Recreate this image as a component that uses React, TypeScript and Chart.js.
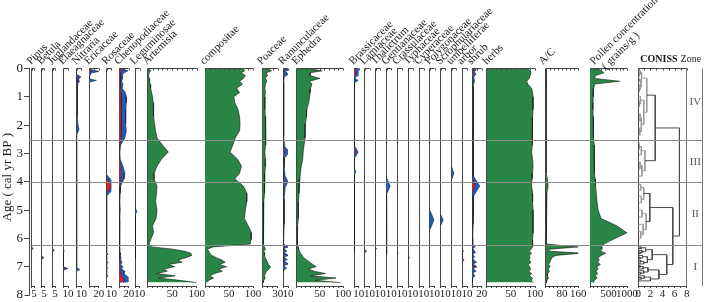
import React, { useEffect, useRef } from 'react';
import { Chart, registerables } from 'chart.js';
Chart.register(...registerables);

type Pt = [number, number];

// ---------- DATA ----------
const AGES = [0.02,0.08,0.15,0.25,0.35,0.45,0.55,0.7,0.85,1.0,1.2,1.45,1.7,1.95,2.2,2.45,2.7,2.95,3.2,3.45,3.7,3.9,4.15,4.4,4.7,5.0,5.3,5.55,5.8,6.05,6.2,6.3,6.38,6.45,6.52,6.6,6.68,6.76,6.84,6.92,7.0,7.08,7.16,7.24,7.32,7.4,7.48,7.56];

const artemisia = [3,6,3,2,3,4,5,6,8,10,11,12,12,14,16,19,30,42,28,19,13,13,19,18,16,19,17,10,12,6,3,8,52,75,88,90,78,62,70,42,55,33,40,18,56,22,65,100];
const compositae = [79,83,75,84,80,72,78,66,72,60,62,69,72,73,72,63,58,52,68,76,72,62,80,87,87,84,82,90,97,96,94,17,5,8,10,14,24,35,42,30,45,28,36,20,10,18,8,4];
const poaceae = [12,18,8,10,6,9,6,5,6,5,5,5,6,6,7,7,6,5,6,6,5,5,4,4,3,3,3,2,2,2,2,4,6,3,5,4,6,8,10,12,16,13,8,6,4,6,3,2];
const ephedra = [32,55,30,29,50,28,33,30,29,28,26,22,21,19,18,18,16,14,13,10,8,7,5,5,4,4,3,2,2,1,1,3,4,6,8,12,15,22,28,35,42,25,38,62,30,85,40,95];
const herbs = [86,90,92,90,88,83,85,93,95,96,96,96,95,95,95,94,94,93,95,96,95,94,93,95,95,96,96,96,96,95,95,95,92,88,93,88,90,87,92,86,89,91,87,93,88,95,92,97];
const acRatio = [3,2,2,3,2,2,2,2,2,3,2,2,3,3,4,3,2,2,3,3,4,8,12,6,4,3,3,2,2,2,5,160,20,15,180,50,30,25,20,15,22,12,18,10,8,14,6,4];
const concentration = [250,300,380,150,120,800,130,100,90,85,80,80,85,90,95,100,110,110,120,120,130,140,150,170,190,220,300,720,1000,600,380,300,320,280,420,300,220,250,200,280,180,220,160,210,150,190,120,100];
const chenoExag = [6,19,10,6,7,5,8,6,13,15,15,14,13,14,15,12,3,1,2,8,12,10,3,2,1,2,1,1,1,1,0,1,2,1,3,2,4,3,6,3,8,5,12,10,15,22,33,8];
const chenoPct = [2,5,3,2,2,2,3,2,4,5,5,4,4,4,5,4,1,0,1,3,4,3,1,1,0,1,0,0,0,0,0,0,1,0,1,1,1,1,2,1,2,1,4,3,5,8,11,2];

// sparse taxa: [age, value]
const pinusExag: Pt[] = [[6.3,0],[6.36,3],[6.42,0]];
const betulaExag: Pt[] = [[6.62,0],[6.68,5],[6.74,0]];
const juglandExag: Pt[] = [[6.36,0],[6.42,3],[6.48,0]];
const elaeagExag: Pt[] = [[6.4,0],[6.45,2],[6.5,0],[7.0,0],[7.06,10],[7.12,0]];
const elaeagPct: Pt[] = [[7.02,0],[7.06,5],[7.1,0]];
const nitrariaExag: Pt[] = [[0.2,0],[0.3,9],[0.38,4],[0.46,6],[0.55,2],[0.8,1],[1.2,1],[1.7,2],[2.0,3],[2.15,5],[2.3,1],[2.5,0],[7.04,0],[7.1,7],[7.16,0]];
const nitrariaPct: Pt[] = [[0.24,0],[0.3,3],[0.38,1],[0.46,2],[0.55,0]];
const ericExag: Pt[] = [[0.0,0],[0.05,6],[0.1,22],[0.16,4],[0.3,0],[0.36,0],[0.42,15],[0.48,0]];
const ericPct: Pt[] = [[0.02,0],[0.06,5],[0.1,4],[0.14,0]];
const rosaExag: Pt[] = [[3.75,0],[4.15,21],[4.5,0],[6.5,0],[6.55,3],[6.6,0],[6.8,0],[6.85,3],[6.9,0],[7.0,0],[7.05,2],[7.1,0],[7.27,0],[7.32,3],[7.37,0]];
const rosaPct: Pt[] = [[3.85,0],[4.15,10],[4.4,0]];
const leguExag: Pt[] = [[4.9,0],[5.05,4],[5.2,0],[6.64,0],[6.68,2],[6.72,0]];
const ranuExag: Pt[] = [[0.0,3],[0.05,13],[0.1,4],[0.2,11],[0.3,2],[0.5,1],[0.8,1],[1.5,1],[2.4,1],[2.75,3],[2.95,13],[3.15,3],[3.5,2],[3.8,4],[4.0,10],[4.2,4],[4.6,2],[5.0,2],[5.5,2],[6.0,1],[6.2,0],[6.3,12],[6.36,1],[6.45,8],[6.5,1],[6.6,12],[6.66,1],[6.75,9],[6.8,1],[6.9,12],[6.96,1],[7.05,7],[7.12,1],[7.2,0]];
const ranuPct: Pt[] = [[0.0,1],[0.05,3],[0.1,1],[0.2,2],[0.3,0],[2.8,0],[2.95,4],[3.1,0],[3.85,0],[4.0,3],[4.15,0],[6.25,0],[6.3,4],[6.35,0],[6.55,0],[6.6,4],[6.65,0],[6.85,0],[6.9,3],[6.95,0]];
const brasExag: Pt[] = [[0.0,8],[0.05,20],[0.12,12],[0.2,18],[0.28,4],[0.35,2],[0.42,9],[0.5,1],[0.6,0],[2.7,0],[2.95,9],[3.2,0],[3.5,0],[3.65,4],[3.8,0],[6.4,0],[6.45,2],[6.5,0]];
const brasPct: Pt[] = [[0.0,2],[0.05,5],[0.12,3],[0.2,4],[0.28,0],[2.8,0],[2.95,3],[3.1,0]];
const lamiExag: Pt[] = [[6.4,0],[6.45,4],[6.5,0]];
const thalExag: Pt[] = [[6.32,0],[6.36,2],[6.4,0]];
const gentExag: Pt[] = [[3.85,0],[4.15,8],[4.45,0],[6.48,0],[6.52,1],[6.56,0]];
const crasExag: Pt[] = [[6.48,0],[6.52,1.5],[6.56,0]];
const typhExag: Pt[] = [[6.62,0],[6.68,3],[6.74,0]];
const polyExag: Pt[] = [[5.0,0],[5.35,9],[5.7,0]];
const scroExag: Pt[] = [[5.15,0],[5.35,5.5],[5.55,0]];
const umbeExag: Pt[] = [[3.45,0],[3.7,5],[3.95,0]];
const arborExag: Pt[] = [[6.4,0],[6.45,3],[6.5,0],[6.7,0],[6.76,4],[6.82,0]];
const shrubExag: Pt[] = [[0.0,3],[0.05,9],[0.1,4],[0.2,8],[0.3,3],[0.45,5],[0.6,2],[1.0,2],[1.5,2],[2.0,3],[2.5,2],[3.0,2],[3.5,2],[3.8,3],[4.15,16],[4.5,3],[5.0,2],[5.5,2],[6.0,1],[6.2,1],[6.3,6],[6.36,1],[6.5,7],[6.56,1],[6.66,5],[6.72,1],[6.84,9],[6.9,2],[7.0,10],[7.06,2],[7.16,8],[7.22,1],[7.32,6],[7.4,1],[7.55,0]];
const shrubPct: Pt[] = [[0.0,1],[0.05,4],[0.1,1],[0.2,3],[0.3,0],[3.85,0],[4.15,6],[4.45,0],[6.8,0],[6.84,3],[6.9,0],[6.96,0],[7.0,5],[7.06,0]];

// CONISS tree: [join height, childA, childB]; leaves are sample ages
const CONISS_TREE: any =
[6.8,
  [2.8,
    [1.4,
      [0.6,
        [0.3, [0.15, 0.03, 0.1], [0.2, 0.18, 0.27]],
        [0.45, [0.25, 0.36, 0.46], [0.3, 0.56, [0.2, 0.68, 0.82]]]],
      [0.9,
        [0.35, 0.98, [0.2, 1.15, 1.35]],
        [0.5, [0.3, 1.6, 1.85], [0.25, 2.1, 2.35]]]],
    [1.1,
      [0.5, [0.2, 2.65, 2.85], 3.05],
      [0.6, [0.3, 3.3, 3.55], 3.8]]],
  [5.7,
    [1.9,
      [0.9, [0.4, 4.1, 4.3], [0.5, 4.5, 4.75]],
      [1.3, [0.6, 5.0, 5.25], [0.8, 5.5, [0.4, 5.75, 6.0]]]],
    [4.7,
      [2.3,
        [1.2, [0.5, 6.3, 6.36], [0.6, 6.42, [0.3, 6.48, 6.54]]],
        [1.5, [0.7, 6.6, [0.3, 6.66, 6.72]], [0.9, [0.4, 6.78, 6.84], 6.9]]],
      [3.4,
        [1.6, [0.8, [0.3, 6.96, 7.02], 7.08], [0.9, 7.14, [0.4, 7.2, 7.26]]],
        [2.0, [1.0, 7.32, [0.5, 7.38, 7.44]], 7.5]]]]];

const ZONE_BOUNDS = [2.55, 4.02, 6.24];
const ZONE_LABELS = ['IV', 'III', 'II', 'I'];
const ZONE_LABEL_AGES = [1.2, 3.3, 5.15, 7.0];
const Y_TICKS = [0, 1, 2, 3, 4, 5, 6, 7, 8];

// ---------- LAYOUT ----------
const SERIF = "'Liberation Serif', 'Times New Roman', serif";
const AXIS = '#444';
const TEXT = '#1a1a1a';
const GREEN = '#2a8646';
const BLUE = '#1f5cbf';
const RED = '#e3211c';
const CHART_LEFT = 29;
const Y_MAX = 7.68;

const steps = (max: number, step: number) => { const a: number[] = []; for (let v = 0; v <= max + 1e-9; v += step) a.push(+v.toFixed(6)); return a; };

const PANELS: any[] = [
  { id: 'pinus', name: 'Pinus', left: 31.7, width: 2.35, max: 5, ticks: [0, 5], labels: [5] },
  { id: 'betula', name: 'Betula', left: 41.7, width: 2.35, max: 5, ticks: [0, 5], labels: [5] },
  { id: 'jug', name: 'Juglandaceae', left: 52.7, width: 2.35, max: 5, ticks: [0, 5], labels: [5] },
  { id: 'elae', name: 'Elaeagnaceae', left: 63.3, width: 4.7, max: 10, ticks: [0, 10], labels: [10] },
  { id: 'nitr', name: 'Nitraria', left: 76.7, width: 4.7, max: 10, ticks: [0, 10], labels: [10] },
  { id: 'eric', name: 'Ericaceae', left: 89.3, width: 9.4, max: 20, ticks: [0, 10, 20], labels: [20] },
  { id: 'rosa', name: 'Rosaceae', left: 106.7, width: 4.7, max: 10, ticks: [0, 10], labels: [10] },
  { id: 'cheno', name: 'Chenopodiaceae', left: 119.3, width: 9.4, max: 20, ticks: [0, 10, 20], labels: [20] },
  { id: 'legu', name: 'Leguminosae', left: 135, width: 4.7, max: 10, ticks: [0, 10], labels: [10] },
  { id: 'arte', name: 'Artemisia', left: 147.7, width: 49, max: 100, ticks: steps(100, 10), labels: [50, 100] },
  { id: 'comp', name: 'compositae', left: 205, width: 48, max: 100, ticks: steps(100, 10), labels: [50, 100] },
  { id: 'poac', name: 'Poaceae', left: 262.3, width: 15.5, max: 30, ticks: steps(30, 10), labels: [30] },
  { id: 'ranu', name: 'Ranunculaceae', left: 283.3, width: 4.7, max: 10, ticks: [0, 10], labels: [10] },
  { id: 'ephe', name: 'Ephedra', left: 296.7, width: 46.3, max: 100, ticks: steps(100, 10), labels: [50, 100] },
  { id: 'bras', name: 'Brassicaceae', left: 354, width: 4.7, max: 10, ticks: [0, 10], labels: [10] },
  { id: 'lami', name: 'Lamiaceae', left: 364.83, width: 4.7, max: 10, ticks: [0, 10], labels: [10] },
  { id: 'thal', name: 'Thalictrum', left: 375.67, width: 4.7, max: 10, ticks: [0, 10], labels: [10] },
  { id: 'gent', name: 'Gentianaceae', left: 386.5, width: 4.7, max: 10, ticks: [0, 10], labels: [10] },
  { id: 'cras', name: 'Crassulaceae', left: 397.33, width: 4.7, max: 10, ticks: [0, 10], labels: [10] },
  { id: 'typh', name: 'Typhaceae', left: 408.17, width: 4.7, max: 10, ticks: [0, 10], labels: [10] },
  { id: 'cype', name: 'Cyperaceae', left: 419, width: 4.7, max: 10, ticks: [0, 10], labels: [10] },
  { id: 'poly', name: 'Polygonaceae', left: 429.83, width: 4.7, max: 10, ticks: [0, 10], labels: [10] },
  { id: 'scro', name: 'Scrophulariaceae', left: 440.67, width: 4.7, max: 10, ticks: [0, 10], labels: [10] },
  { id: 'umbe', name: 'umbelliferae', left: 451.5, width: 4.7, max: 10, ticks: [0, 10], labels: [10] },
  { id: 'arbo', name: 'arbor', left: 462.3, width: 4.7, max: 10, ticks: [0, 10], labels: [10] },
  { id: 'shru', name: 'shrub', left: 472.3, width: 9.4, max: 20, ticks: [0, 10, 20], labels: [20] },
  { id: 'herb', name: 'herbs', left: 486.7, width: 48.3, max: 100, ticks: steps(100, 10), labels: [50, 100], ldx: 1 },
  { id: 'ac', name: 'A/C', left: 545.7, width: 32.6, max: 160, ticks: steps(160, 20), labels: [80, 160], ldx: -2 },
  { id: 'conc', name: 'Pollen concentration', sub: '( grains/g )', left: 590, width: 37, max: 1000, ticks: steps(1000, 100), labels: [500, 1000], ldx: 5 },
  { id: 'coniss', name: '', left: 638.3, width: 48.4, max: 8, ticks: steps(8, 1), labels: [0, 2, 4, 6, 8] },
];
const ZONE_COL = { left: 686.7, right: 702 };

// ---------- CHART ----------
function fitBottom(s: any) { s.height = 16; s.paddingLeft = 0; s.paddingRight = 0; }

function panelScale(p: any, weight: number) {
  return {
    type: 'linear', axis: 'x', position: 'bottom', stack: 'cols', stackWeight: weight,
    min: 0, max: p.max, offset: false,
    afterBuildTicks: (s: any) => { s.ticks = p.ticks.map((v: number) => ({ value: v })); },
    afterFit: fitBottom,
    ticks: {
      autoSkip: false, maxRotation: 0, minRotation: 0, padding: 0, color: TEXT,
      font: { family: SERIF, size: 11 },
      callback: (v: number) => (p.labels.includes(v) ? String(v) : ''),
    },
    grid: {
      color: (c: any) => (c.tick && c.tick.value === 0 ? AXIS : 'rgba(0,0,0,0)'),
      tickColor: AXIS, tickLength: 2, lineWidth: 1,
    },
    border: { display: true, color: AXIS, width: 1 },
  };
}

function gapScale(weight: number) {
  return { type: 'linear', axis: 'x', position: 'bottom', stack: 'cols', stackWeight: weight, min: 0, max: 1, display: false, afterFit: fitBottom };
}

function buildScales() {
  const scales: any = {
    y: {
      type: 'linear', axis: 'y', position: 'left', reverse: true, min: 0, max: Y_MAX,
      afterBuildTicks: (s: any) => { s.ticks = Y_TICKS.filter(v => v <= Y_MAX).map(v => ({ value: v })); },
      afterFit: (s: any) => { s.width = CHART_LEFT; },
      ticks: { autoSkip: false, padding: 1, color: TEXT, font: { family: SERIF, size: 13 } },
      grid: { drawOnChartArea: false, tickLength: 5, color: AXIS, tickColor: AXIS },
      border: { display: true, color: AXIS, width: 1 },
      title: { display: true, text: 'Age ( cal yr BP )', color: TEXT, font: { family: SERIF, size: 13 }, padding: 0 },
    },
    yz: {
      type: 'linear', axis: 'y', position: 'left', reverse: true, min: 0, max: Y_MAX,
      afterBuildTicks: (s: any) => { s.ticks = ZONE_BOUNDS.map(v => ({ value: v })); },
      afterFit: (s: any) => { s.width = 0; },
      ticks: { display: false },
      grid: { drawOnChartArea: true, drawTicks: false, color: '#8a8a8a', lineWidth: 1, z: 1 },
      border: { display: false },
    },
  };
  let prev = CHART_LEFT;
  PANELS.forEach((p, i) => {
    const gap = p.left - prev;
    if (gap > 0.01) scales['gap' + i] = gapScale(gap);
    scales[p.id] = panelScale(p, p.width);
    prev = p.left + p.width;
  });
  const zg = ZONE_COL.left - prev;
  if (zg > 0.01) scales.gapz = gapScale(zg);
  scales.zone = {
    type: 'linear', axis: 'x', position: 'bottom', stack: 'cols', stackWeight: ZONE_COL.right - ZONE_COL.left,
    min: 0, max: 1,
    afterBuildTicks: (s: any) => { s.ticks = [{ value: 0 }, { value: 1 }]; },
    afterFit: fitBottom,
    ticks: { display: false },
    grid: { color: '#777', drawTicks: false, lineWidth: 1 },
    border: { display: false },
  };
  return scales;
}

const lineBase = { type: 'line', indexAxis: 'y', yAxisID: 'y', pointRadius: 0, tension: 0, borderJoinStyle: 'round' };

function seriesData(vals: number[]) { return AGES.map((a, i) => ({ x: vals[i], y: a })); }
function ptData(pts: Pt[]) { return pts.map(([a, v]) => ({ x: v, y: a })); }

function buildDatasets() {
  const ds: any[] = [];
  const green: [string, number[]][] = [['arte', artemisia], ['comp', compositae], ['poac', poaceae], ['ephe', ephedra], ['herb', herbs], ['ac', acRatio], ['conc', concentration]];
  green.forEach(([id, vals]) => ds.push({ ...lineBase, xAxisID: id, data: seriesData(vals), fill: 'origin', backgroundColor: GREEN, borderColor: '#151515', borderWidth: 0.6, order: 3 }));
  const blue = (id: string, data: any[]) => ds.push({ ...lineBase, xAxisID: id, data, fill: 'origin', backgroundColor: BLUE, borderColor: '#111', borderWidth: 0.5, order: 2 });
  const red = (id: string, data: any[]) => ds.push({ ...lineBase, xAxisID: id, data, fill: 'origin', backgroundColor: RED, borderColor: '#222', borderWidth: 0.4, order: 1 });
  blue('cheno', seriesData(chenoExag)); red('cheno', seriesData(chenoPct));
  const sparse: [string, Pt[], Pt[]][] = [
    ['pinus', pinusExag, []], ['betula', betulaExag, []], ['jug', juglandExag, []],
    ['elae', elaeagExag, elaeagPct], ['nitr', nitrariaExag, nitrariaPct], ['eric', ericExag, ericPct],
    ['rosa', rosaExag, rosaPct], ['legu', leguExag, []], ['ranu', ranuExag, ranuPct],
    ['bras', brasExag, brasPct], ['lami', lamiExag, []], ['thal', thalExag, []], ['gent', gentExag, []],
    ['cras', crasExag, []], ['typh', typhExag, []], ['poly', polyExag, []], ['scro', scroExag, []],
    ['umbe', umbeExag, []], ['arbo', arborExag, []], ['shru', shrubExag, shrubPct],
  ];
  sparse.forEach(([id, ex, pc]) => { if (ex.length) blue(id, ptData(ex)); if (pc.length) red(id, ptData(pc)); });

  // CONISS dendrogram
  const dark: any[] = [], light: any[] = [];
  const walk = (n: any): { x: number; y: number } => {
    if (typeof n === 'number') return { x: 0, y: n };
    const [h, a, b] = n;
    const pa = walk(a), pb = walk(b);
    const target = h >= 1.5 || pa.y > 6.2 ? dark : light;
    target.push({ x: pa.x, y: pa.y }, { x: h, y: pa.y }, { x: h, y: pb.y }, { x: pb.x, y: pb.y }, { x: null, y: null });
    return { x: h, y: (pa.y + pb.y) / 2 };
  };
  walk(CONISS_TREE);
  ds.push({ ...lineBase, xAxisID: 'coniss', data: light, fill: false, spanGaps: false, borderColor: '#9a9a9a', borderWidth: 1, order: 5 });
  ds.push({ ...lineBase, xAxisID: 'coniss', data: dark, fill: false, spanGaps: false, borderColor: '#4a4a4a', borderWidth: 1, order: 4 });
  return ds;
}

const overlay = {
  id: 'overlay',
  afterDraw(chart: any) {
    const ctx = chart.ctx;
    const top = chart.chartArea.top;
    const ys = chart.scales.y;
    ctx.save();
    // top lines of each panel
    ctx.strokeStyle = AXIS; ctx.lineWidth = 1;
    PANELS.forEach((p) => {
      const s = chart.scales[p.id];
      const x0 = s.getPixelForValue(0), x1 = s.getPixelForValue(p.max);
      ctx.beginPath();
      ctx.moveTo(x0, top); ctx.lineTo(x1, top);
      s.ticks.forEach((t: any) => { const tx = Math.round(s.getPixelForValue(t.value)) + 0.5; ctx.moveTo(tx, top); ctx.lineTo(tx, top + 2); });
      ctx.stroke();
    });
    // age axis beyond the panels
    const ax = Math.round(ys.right - 0.5) + 0.5;
    Y_TICKS.filter(v => v > Y_MAX).forEach(v => {
      const py = Math.round(ys.getPixelForValue(v)) + 0.5;
      ctx.beginPath(); ctx.moveTo(ax, chart.chartArea.bottom); ctx.lineTo(ax, py); ctx.moveTo(ax - 5, py); ctx.lineTo(ax, py); ctx.stroke();
      ctx.fillStyle = TEXT; ctx.font = `13px ${SERIF}`; ctx.textAlign = 'right'; ctx.textBaseline = 'middle';
      ctx.fillText(String(v), ys.right - 6, ys.getPixelForValue(v));
    });
    // taxon names
    ctx.fillStyle = TEXT; ctx.font = `11px ${SERIF}`; ctx.textAlign = 'left'; ctx.textBaseline = 'alphabetic';
    PANELS.forEach((p) => {
      if (!p.name) return;
      const s = chart.scales[p.id];
      ctx.save();
      ctx.translate(s.left - 1 + (p.ldx || 0), top - 3.5);
      ctx.rotate(-Math.PI / 4);
      ctx.fillText(p.name, 0, 0);
      if (p.sub) ctx.fillText(p.sub, 4.7, 11.8);
      ctx.restore();
    });
    // CONISS / Zone header
    const cs = chart.scales.coniss;
    ctx.font = `bold 10px ${SERIF}`;
    ctx.fillText('CONISS', cs.left + 2, top - 7);
    const w = ctx.measureText('CONISS').width;
    ctx.font = `10px ${SERIF}`;
    ctx.fillText('Zone', cs.left + 2 + w + 3, top - 7);
    // zone numerals
    const zs = chart.scales.zone;
    ctx.fillStyle = '#555'; ctx.font = `11px ${SERIF}`; ctx.textAlign = 'center'; ctx.textBaseline = 'middle';
    ZONE_LABELS.forEach((l, i) => ctx.fillText(l, (zs.left + zs.right) / 2 + 1, ys.getPixelForValue(ZONE_LABEL_AGES[i])));
    ctx.restore();
  },
};

export default function App() {
  const ref = useRef<HTMLCanvasElement>(null);
  useEffect(() => {
    const canvas = ref.current;
    if (!canvas) return;
    const chart = new Chart(canvas as any, {
      type: 'line',
      data: { datasets: buildDatasets() },
      options: {
        indexAxis: 'y',
        animation: false,
        responsive: true,
        maintainAspectRatio: false,
        devicePixelRatio: 1,
        layout: { padding: { left: 0, right: 5, top: 68.5, bottom: 0 }, autoPadding: false },
        plugins: { legend: { display: false }, tooltip: { enabled: false } },
        scales: buildScales(),
      } as any,
      plugins: [overlay as any],
    } as any);
    return () => chart.destroy();
  }, []);
  return (
    <div style={{ position: 'fixed', left: 0, top: 0, width: 707, height: 302, background: '#fff' }}>
      <canvas ref={ref} />
    </div>
  );
}
